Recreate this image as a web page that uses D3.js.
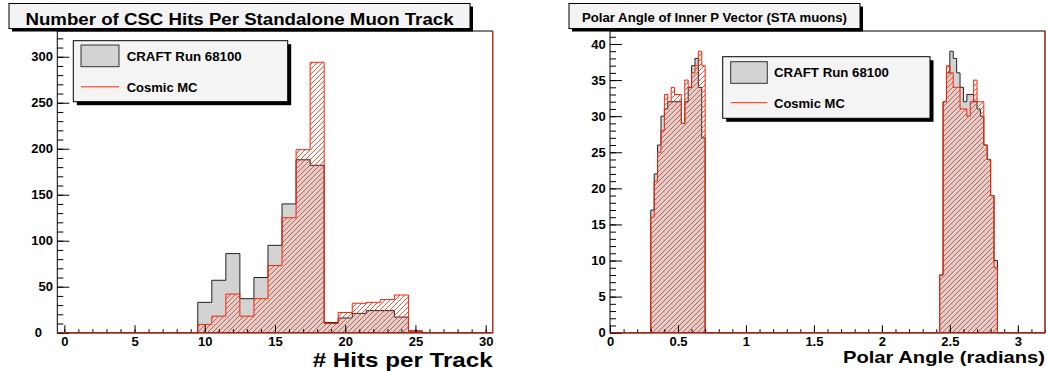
<!DOCTYPE html>
<html>
<head>
<meta charset="utf-8">
<script src="https://cdn.jsdelivr.net/npm/d3@7"></script>
<style>
  body { margin: 0; background: #fff; }
  svg { font-family: "Liberation Sans", Arial, sans-serif; font-weight: bold; }
</style>
</head>
<body>
<svg id="chart" width="1046" height="371"></svg>
<script>
// ---- data ----
// CSC hits: 31 bins of width 1 starting at -0.5
var hitsStart = -0.5, hitsWidth = 1;
var craftHits = [0,0,0,0,0,0,0,0,0,0, 33,57,86,37,60,95,140,188,182,11, 16,21,24,24,17,2, 0,0,0,0,0];
var mcHits    = [0,0,0,0,0,0,0,0,0,0, 9,18,42,18,37,73,125,199,294,10, 22,32,33,36,41,1.5, 0,0,0,0,0];

// polar angle: bins of 0.025 rad, two filled groups
var polarWidth = 0.025;
var polarLowStart = 0.3, polarHighStart = 2.425;
var craftPolarLow  = [17,22,26,30,31,32,32,32,32,29,32,34,37,38,34,27];
var mcPolarLow     = [16,21,25,28,33,32,34,33,33,29,35,34,36,37,39,37];
var craftPolarHigh = [8,32,36,39,38,36,34,32,33,33,32,31,30,26,24,19,10];
var mcPolarHigh    = [8,32,37,36,34,34,31,31,30,32,35,32,32,26,24,19,9];

var hitsTicks = [0,5,10,15,20,25,30];
var hitsCountTicks = [0,50,100,150,200,250,300];
var polarTicks = [0,0.5,1,1.5,2,2.5,3];
var polarCountTicks = [0,5,10,15,20,25,30,35,40];
var legendLabels = ["CRAFT Run 68100", "Cosmic MC"];

var svg = d3.select("#chart");
var font = '"Liberation Sans", Arial, sans-serif';

var defs = svg.append("defs");
defs.append("pattern")
  .attr("id", "hatch")
  .attr("patternUnits", "userSpaceOnUse")
  .attr("width", 5).attr("height", 5)
  .append("path")
  .attr("d", "M-1,1 l2,-2 M0,5 l5,-5 M4,6 l2,-2")
  .attr("stroke", "#ff3a1a")
  .attr("stroke-width", 0.9);

var panels = [
  {
    id: "hits", x0: 57.3, x1: 492.7, y0: 31, y1: 332.7,
    xDomain: [-0.5, 30.5], yDomain: [0, 328],
    craft: [{start: hitsStart, width: hitsWidth, values: craftHits}],
    mc: [{start: hitsStart, width: hitsWidth, values: mcHits}],
    xTicks: hitsTicks, yTicks: hitsCountTicks, xMinor: 30, yMinor: 32,
    title: "Number of CSC Hits Per Standalone Muon Track",
    titleBox: {x: 9, y: 3.5, w: 461, h: 25, size: 16, len: 428, base: 25},
    xTitle: "# Hits per Track", xTitleSize: 21, xTitleLen: 180, xTitleBase: 367,
    legend: {x: 73.3, y: 40.7, w: 214.4, h: 61, sw: 81, sy: 45, sh: 21.7, sww: 38,
             tx: 126.7, t1: 61, ly: 86.7, t2: 91.7, lineColor: "#ff6a55", lineW: 1.6},
    zeroShift: 11
  },
  {
    id: "polar", x0: 610, x1: 1045, y0: 31, y1: 332.7,
    xDomain: [0, 3.2], yDomain: [0, 41.8],
    craft: [{start: polarLowStart, width: polarWidth, values: craftPolarLow},
            {start: polarHighStart, width: polarWidth, values: craftPolarHigh}],
    mc: [{start: polarLowStart, width: polarWidth, values: mcPolarLow},
         {start: polarHighStart, width: polarWidth, values: mcPolarHigh}],
    xTicks: polarTicks, yTicks: polarCountTicks, xMinor: 32, yMinor: 42,
    title: "Polar Angle of Inner P Vector (STA muons)",
    titleBox: {x: 569, y: 3.5, w: 291, h: 25, size: 12.5, len: 265, base: 21.5},
    xTitle: "Polar Angle (radians)", xTitleSize: 17, xTitleLen: 202, xTitleBase: 363,
    legend: {x: 722.7, y: 56.7, w: 207.3, h: 61.6, sw: 730.7, sy: 61.7, sh: 21.6, sww: 36.6,
             tx: 774, t1: 77.3, ly: 102.7, t2: 108.3, lineColor: "#ff2a00", lineW: 1},
    zeroShift: 0
  }
];

// step outline of a histogram, baseline across the whole axis range
function histPoints(groups, lo, hi) {
  var pts = [[lo, 0]];
  groups.forEach(function(g) {
    pts.push([g.start, 0]);
    g.values.forEach(function(v, i) {
      pts.push([g.start + i * g.width, v]);
      pts.push([g.start + (i + 1) * g.width, v]);
    });
    pts.push([g.start + g.values.length * g.width, 0]);
  });
  pts.push([hi, 0]);
  return pts;
}

function styleAxis(g) {
  g.select(".domain").remove();
  g.attr("font-family", font).attr("font-size", 13).attr("font-weight", "bold");
  g.selectAll("line").attr("stroke", "#000");
  g.selectAll("text").attr("fill", "#000");
}

panels.forEach(function(p) {
  var x = d3.scaleLinear().domain(p.xDomain).range([p.x0, p.x1]);
  var y = d3.scaleLinear().domain(p.yDomain).range([p.y1, p.y0]);
  var line = d3.line().x(function(d) { return x(d[0]); }).y(function(d) { return y(d[1]); });

  defs.append("clipPath").attr("id", "clip-" + p.id)
    .append("rect")
    .attr("x", p.x0).attr("y", p.y0)
    .attr("width", p.x1 - p.x0).attr("height", p.y1 - p.y0 + 1);

  var plot = svg.append("g").attr("clip-path", "url(#clip-" + p.id + ")");

  // data histogram
  plot.append("path")
    .attr("d", line(histPoints(p.craft, p.xDomain[0], p.xDomain[1])) + "Z")
    .attr("fill", "#d3d3d3")
    .attr("stroke", "#222")
    .attr("stroke-width", 1);

  // MC histogram, hatched
  plot.append("path")
    .attr("d", line(histPoints(p.mc, p.xDomain[0], p.xDomain[1])) + "Z")
    .attr("fill", "url(#hatch)")
    .attr("stroke", "#ff2200")
    .attr("stroke-width", 1);

  // axes, ticks pointing into the frame
  svg.append("g")
    .attr("transform", "translate(0," + p.y1 + ")")
    .call(d3.axisBottom(x).ticks(p.xMinor).tickSize(-3.5).tickFormat(""))
    .call(styleAxis);
  svg.append("g")
    .attr("transform", "translate(0," + p.y1 + ")")
    .call(d3.axisBottom(x).tickValues(p.xTicks).tickSize(-7.5).tickPadding(4)
      .tickFormat(function(d) { return String(d); }))
    .call(styleAxis);

  svg.append("g")
    .attr("transform", "translate(" + p.x0 + ",0)")
    .call(d3.axisLeft(y).ticks(p.yMinor).tickSize(-6).tickFormat(""))
    .call(styleAxis);
  var yAxis = svg.append("g")
    .attr("transform", "translate(" + p.x0 + ",0)")
    .call(d3.axisLeft(y).tickValues(p.yTicks).tickSize(-12).tickPadding(4.3)
      .tickFormat(function(d) { return String(d); }))
    .call(styleAxis);
  yAxis.selectAll(".tick text")
    .filter(function(d) { return d === 0; })
    .attr("x", -4.3 - p.zeroShift);

  // frame
  svg.append("rect")
    .attr("x", p.x0).attr("y", p.y0)
    .attr("width", p.x1 - p.x0).attr("height", p.y1 - p.y0)
    .attr("fill", "none").attr("stroke", "#000").attr("stroke-width", 1);
  svg.append("line")
    .attr("x1", p.x1).attr("x2", p.x1).attr("y1", p.y0).attr("y2", p.y1)
    .attr("stroke", "#d8321e").attr("stroke-width", 1.2);
  svg.append("line")
    .attr("x1", p.x0).attr("x2", p.x1).attr("y1", p.y1).attr("y2", p.y1)
    .attr("stroke", "#b02010").attr("stroke-width", 1.3);

  // x axis title
  svg.append("text")
    .attr("x", p.x1).attr("y", p.xTitleBase)
    .attr("text-anchor", "end")
    .attr("font-size", p.xTitleSize)
    .attr("textLength", p.xTitleLen).attr("lengthAdjust", "spacingAndGlyphs")
    .text(p.xTitle);

  // legend
  var L = p.legend;
  svg.append("rect")
    .attr("x", L.x + 3.5).attr("y", L.y + 3.5).attr("width", L.w).attr("height", L.h)
    .attr("fill", "#000");
  svg.append("rect")
    .attr("x", L.x).attr("y", L.y).attr("width", L.w).attr("height", L.h)
    .attr("fill", "#f4f4f4").attr("stroke", "#000").attr("stroke-width", 1);
  svg.append("rect")
    .attr("x", L.sw).attr("y", L.sy).attr("width", L.sww).attr("height", L.sh)
    .attr("fill", "#d3d3d3").attr("stroke", "#333").attr("stroke-width", 1);
  svg.append("line")
    .attr("x1", L.sw).attr("x2", L.sw + L.sww).attr("y1", L.ly).attr("y2", L.ly)
    .attr("stroke", L.lineColor).attr("stroke-width", L.lineW);
  svg.append("text")
    .attr("x", L.tx).attr("y", L.t1).attr("font-size", 13)
    .attr("textLength", 115).attr("lengthAdjust", "spacingAndGlyphs")
    .text(legendLabels[0]);
  svg.append("text")
    .attr("x", L.tx).attr("y", L.t2).attr("font-size", 13)
    .text(legendLabels[1]);

  // title box
  var T = p.titleBox;
  svg.append("rect")
    .attr("x", T.x + 3).attr("y", T.y + 3).attr("width", T.w).attr("height", T.h)
    .attr("fill", "#000");
  svg.append("rect")
    .attr("x", T.x).attr("y", T.y).attr("width", T.w).attr("height", T.h)
    .attr("fill", "#f3f3f3").attr("stroke", "#000").attr("stroke-width", 1);
  svg.append("text")
    .attr("x", T.x + T.w / 2).attr("y", T.base)
    .attr("text-anchor", "middle")
    .attr("font-size", T.size)
    .attr("textLength", T.len).attr("lengthAdjust", "spacingAndGlyphs")
    .text(p.title);
});
</script>
</body>
</html>
